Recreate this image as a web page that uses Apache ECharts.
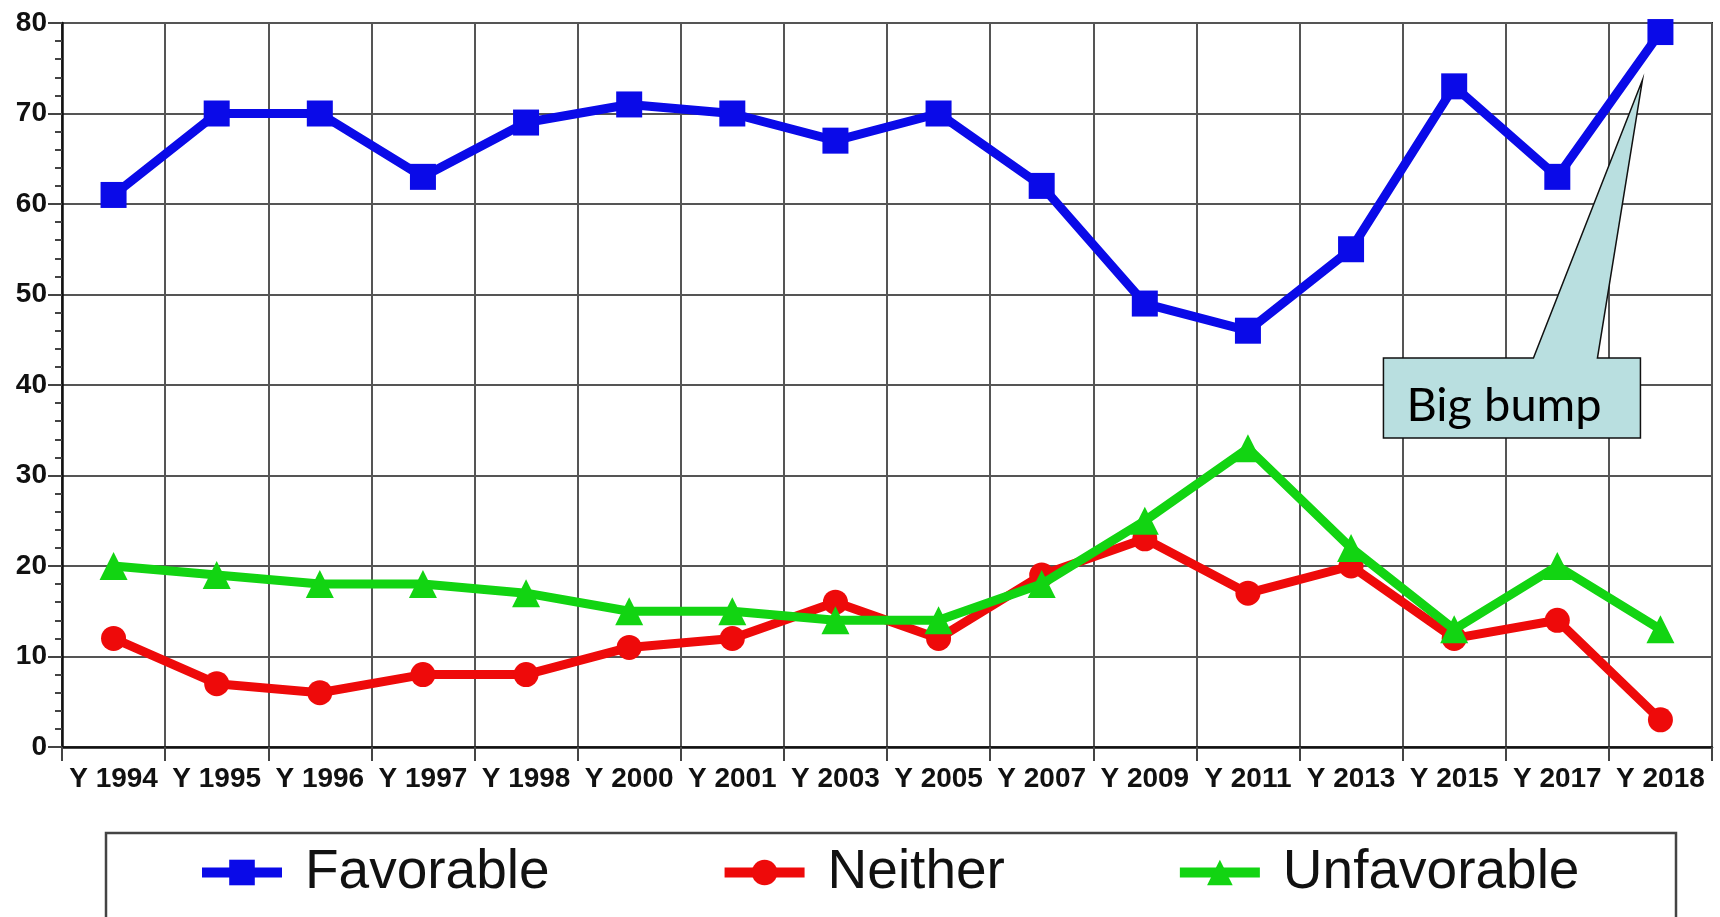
<!DOCTYPE html>
<html>
<head>
<meta charset="utf-8">
<script src="https://cdn.jsdelivr.net/npm/echarts@6/dist/echarts.min.js"></script>
<style>
html,body{margin:0;padding:0;background:#fff;}
#chart{width:1720px;height:917px;}
</style>
</head>
<body>
<div id="chart"></div>
<script>
const categories = ['Y 1994','Y 1995','Y 1996','Y 1997','Y 1998','Y 2000','Y 2001','Y 2003','Y 2005','Y 2007','Y 2009','Y 2011','Y 2013','Y 2015','Y 2017','Y 2018'];
const favorable   = [61, 70, 70, 63, 69, 71, 70, 67, 70, 62, 49, 46, 55, 73, 63, 79];
const neither     = [12, 7, 6, 8, 8, 11, 12, 16, 12, 19, 23, 17, 20, 12, 14, 3];
const unfavorable = [20, 19, 18, 18, 17, 15, 15, 14, 14, 18, 25, 33, 22, 13, 20, 13];
const seriesNames = ['Favorable', 'Neither', 'Unfavorable'];
const calloutText = 'Big bump';

const chart = echarts.init(document.getElementById('chart'), null, {renderer: 'canvas'});
const axisFont = {fontFamily: 'Liberation Sans', fontWeight: 'bold', color: '#111'};
const option = {
  backgroundColor: '#fff',
  animation: false,
  grid: {left: 62, right: 8, top: 23, bottom: 170, show: true, borderColor: '#222', borderWidth: 2, backgroundColor: 'transparent'},
  xAxis: {
    type: 'category',
    data: categories,
    boundaryGap: true,
    axisLine: {lineStyle: {color: '#111', width: 2.5}},
    axisTick: {show: true, inside: false, length: 14, alignWithLabel: false, lineStyle: {color: '#444', width: 2}},
    axisLabel: Object.assign({fontSize: 28, margin: 18, interval: 0}, axisFont),
    splitLine: {show: true, interval: 0, lineStyle: {color: '#555', width: 2}}
  },
  yAxis: {
    type: 'value',
    min: 0, max: 80, interval: 10,
    axisLine: {show: true, lineStyle: {color: '#111', width: 2.5}},
    axisTick: {show: true, length: 14, lineStyle: {color: '#444', width: 2}},
    minorTick: {show: true, splitNumber: 5, length: 7, lineStyle: {color: '#444', width: 2}},
    axisLabel: Object.assign({fontSize: 28, margin: 15}, axisFont),
    splitLine: {show: true, lineStyle: {color: '#555', width: 2}}
  },
  legend: {
    data: seriesNames,
    left: 197, top: 845,
    orient: 'horizontal',
    itemWidth: 80, itemHeight: 32, itemGap: 170,
    padding: 0,
    borderWidth: 0,
    lineStyle: {width: 10},
    textStyle: {fontFamily: 'Liberation Sans', fontSize: 55, color: '#111', padding: [0, 0, 0, 18]}
  },
  series: [
    {name: seriesNames[0], type: 'line', data: favorable, symbol: 'rect', symbolSize: 26,
     color: '#0a0ae8', lineStyle: {width: 9, color: '#0a0ae8'}, itemStyle: {color: '#0a0ae8'}, z: 3},
    {name: seriesNames[1], type: 'line', data: neither, symbol: 'circle', symbolSize: 25,
     color: '#ee0a0a', lineStyle: {width: 9, color: '#ee0a0a'}, itemStyle: {color: '#ee0a0a'}, z: 2},
    {name: seriesNames[2], type: 'line', data: unfavorable, symbol: 'triangle', symbolSize: 28,
     color: '#12d412', lineStyle: {width: 9, color: '#12d412'}, itemStyle: {color: '#12d412'}, z: 4}
  ]
};
chart.setOption(option);

// callout anchored to the last Favorable point
const lastIdx = favorable.length - 1;
const p = chart.convertToPixel({seriesIndex: 0}, [lastIdx, favorable[lastIdx]]);
const tip = [p[0] - 18, p[1] + 48];
const boxL = tip[0] - 259, boxR = tip[0] - 2, boxT = tip[1] + 278, boxB = tip[1] + 358;
chart.setOption({
  graphic: [
    {type: 'rect', z: -1, silent: true,
     shape: {x: 106, y: 833, width: 1570, height: 120},
     style: {fill: '#fff', stroke: '#444', lineWidth: 2.5}},
    {type: 'polygon', z: 100,
     shape: {points: [[boxL, boxT], [tip[0] - 109, boxT], tip, [tip[0] - 45, boxT], [boxR, boxT], [boxR, boxB], [boxL, boxB]]},
     style: {fill: '#b9dfe0', stroke: '#111', lineWidth: 1.5}},
    {type: 'text', z: 101, x: boxL + 23, y: (boxT + boxB) / 2 + 8,
     style: {text: calloutText, font: '47px Lato', fill: '#000', verticalAlign: 'middle'}}
  ]
});
</script>
</body>
</html>
